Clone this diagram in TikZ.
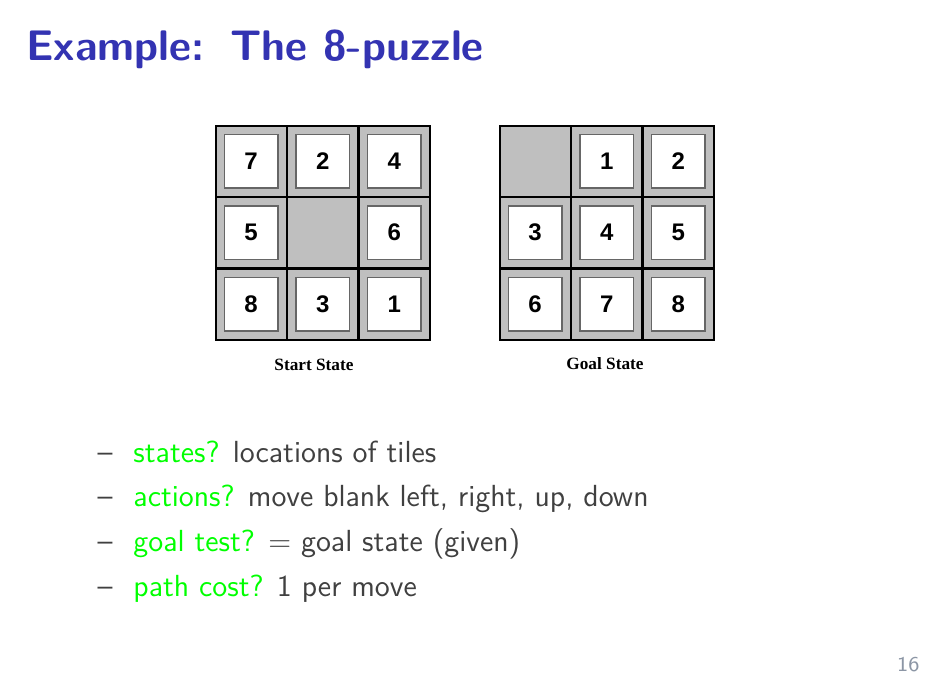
\documentclass[tikz,border=0pt]{standalone}
\usepackage{fontspec}
\newfontfamily\tilefont{Liberation Sans}
\newfontfamily\capfont{Liberation Serif}
\definecolor{titleblue}{rgb}{0.2,0.2,0.7}
\definecolor{bodygray}{gray}{0.25}
\definecolor{cellgray}{gray}{0.75}
\definecolor{pagegray}{RGB}{140,150,165}
\tikzset{
  cell/.style={draw=black,line width=0.8pt,fill=cellgray,minimum size=28.4pt,inner sep=0pt},
  tile/.style={draw=black!60,line width=0.6pt,fill=white,minimum size=21.4pt,inner sep=0pt,
    font=\tilefont\bfseries\fontsize{9.6}{11}\selectfont},
  caption/.style={anchor=base,font=\capfont\bfseries\fontsize{6.9}{8}\selectfont},
  item/.style={anchor=base west,text=bodygray,font=\sffamily\fontsize{12.2}{14}\selectfont}
}
\begin{document}
\begin{tikzpicture}[x=0.4pt,y=-0.4pt]
  \useasboundingbox[fill=white] (0,0) rectangle (928,696);
  \node[anchor=base west,inner sep=0pt,text=titleblue,font=\sffamily\bfseries\fontsize{17.1}{20}\selectfont]
    (title) at (26,60) {Example:\ \hspace{4pt}The 8-puzzle};
  % start state
  \foreach \n [count=\i from 0] in {7,2,4,5,0,6,8,3,1} {
    \pgfmathtruncatemacro\c{mod(\i,3)}
    \pgfmathtruncatemacro\r{div(\i,3)}
    \node[cell] (start-\i) at (251+71.7*\c,161+71.7*\r) {};
    \ifnum\n>0 \node[tile] (start-t\n) at (start-\i) {\n}; \fi
  }
  % goal state
  \foreach \n [count=\i from 0] in {0,1,2,3,4,5,6,7,8} {
    \pgfmathtruncatemacro\c{mod(\i,3)}
    \pgfmathtruncatemacro\r{div(\i,3)}
    \node[cell] (goal-\i) at (535+71.7*\c,161+71.7*\r) {};
    \ifnum\n>0 \node[tile] (goal-t\n) at (goal-\i) {\n}; \fi
  }
  \node[caption] (startlabel) at (314,370) {Start State};
  \node[caption] (goallabel) at (605,369) {Goal State};
  % the questions
  \foreach \q/\a [count=\k from 0] in {states?/locations of tiles,
      actions?/{move blank left, right, up, down},
      goal test?/{$=$ goal state (given)},
      path cost?/1 per move} {
    \node[item,inner sep=0pt] (dash-\k) at (97,462+44.7*\k) {--};
    \node[item,inner sep=0pt] (item-\k) at (133,462+44.7*\k) {\textcolor{green}{\q} \a};
  }
  \node[anchor=base east,inner sep=0pt,text=pagegray,font=\sffamily\fontsize{8.4}{9}\selectfont]
    (page) at (920,671) {16};
\end{tikzpicture}
\end{document}
